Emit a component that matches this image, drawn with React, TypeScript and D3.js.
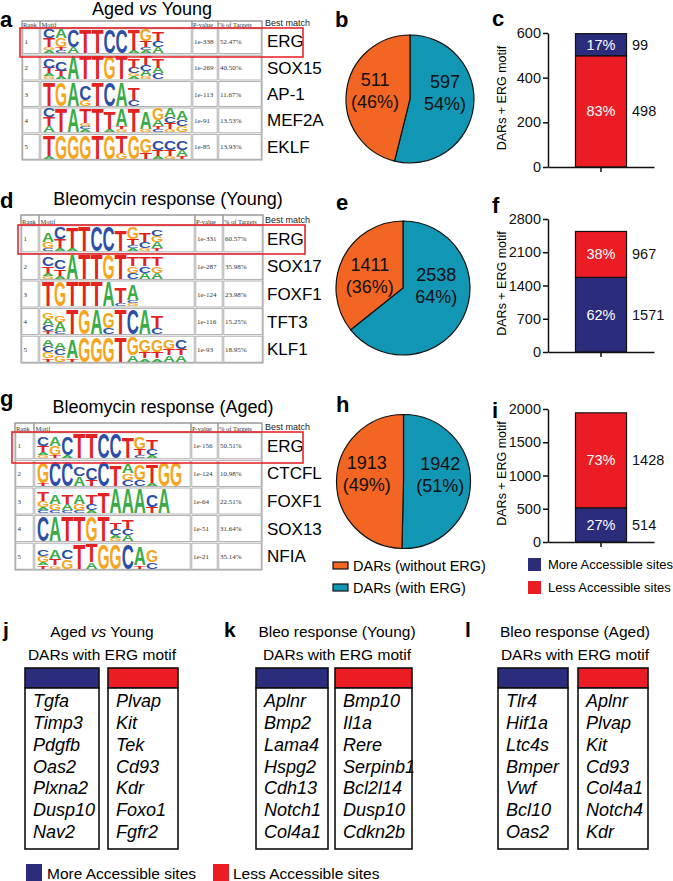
import React, { useEffect, useRef } from "react";
import * as d3 from "d3";

// ---- panels a / d / g : de novo motif tables ----
const tableTitles = ["Aged vs Young", "Bleomycin response (Young)", "Bleomycin response (Aged)"];

const agedYoungMatch = ["ERG", "SOX15", "AP-1", "MEF2A", "EKLF"];
const agedYoungPval = ["1e-338", "1e-269", "1e-113", "1e-91", "1e-85"];
const agedYoungTargets = ["52.47%", "40.50%", "11.67%", "13.53%", "13.93%"];
// logo columns, letters top -> bottom, digit = stack height (8 = full)
const agedYoungLogos = [
  ["C3T3G1A1", "A3G3T1C1", "C6A2", "T8", "T8", "C8", "C8", "T7A1", "G4T2C1A1", "T3C2A2"],
  ["C3T2A1G1", "C3T2A1", "A8", "T8", "T8", "G8", "T8", "T3C2G1A1", "T3C2A2G1", "T3A2C2"],
  ["T8", "G8", "A8", "C5G2", "T8", "C8", "A8", "T4C2"],
  ["C3T3A2", "T8", "A8", "T5G1C1A1", "T8", "T6A1", "A6T1G1", "T8", "A6G1", "G4A2T1C1", "A3C2T2G1", "A3C2G2"],
  ["T7A1", "G8", "G8", "G8", "T8", "G8", "T6G2", "G8", "G5T2", "C3T2A1", "C3T2G1", "C3A2T1"],
];

const bleoYoungMatch = ["ERG", "SOX17", "FOXF1", "TFT3", "KLF1"];
const bleoYoungPval = ["1e-331", "1e-287", "1e-124", "1e-116", "1e-93"];
const bleoYoungTargets = ["60.57%", "35.98%", "23.98%", "15.25%", "18.95%"];
const bleoYoungLogos = [
  ["A3G2C1", "C4T3A1", "T7A1", "T8", "C8", "C8", "T7", "G4T2C1A1", "T3C2G1", "C2G2A2T1"],
  ["C3T2A1G1", "C3T2A1", "A8", "T8", "T8", "G8", "T8", "T3G2C2", "T3C2A2", "T3G2A2"],
  ["T8", "G8", "T8", "T8", "T8", "A8", "T5C1", "A5C1G1"],
  ["G2A2C2T1", "G2A3C1", "T8", "G8", "A8", "G5C2", "T8", "C8", "A8", "T4C2"],
  ["A2C2G2T1", "A2C2G2", "A6T1", "G8", "G8", "G8", "T8", "G6A2", "G4T2A1", "G4T2A1", "G3T2A2", "C3T2A2"],
];

const bleoAgedMatch = ["ERG", "CTCFL", "FOXF1", "SOX13", "NFIA"];
const bleoAgedPval = ["1e-156", "1e-124", "1e-64", "1e-51", "1e-21"];
const bleoAgedTargets = ["50.51%", "10.98%", "22.51%", "31.64%", "35.14%"];
const bleoAgedLogos = [
  ["C3T2A1G1", "A3G3T1", "C6A1", "T8", "T8", "C8", "C8", "T7", "G4T2C1", "T3C2A1"],
  ["G7T1", "C8", "C8", "C3A3", "C4T2", "C8", "T7", "A3G2C2", "G5C2", "T6A1", "G8", "G8"],
  ["T3G2A1C1", "A3G2C1", "T3A2C1", "A3G2C1", "T3C2A1", "T7", "A8", "A8", "A8", "C4T2", "A8"],
  ["C8", "A8", "T8", "T8", "G8", "T8", "T2C2A1G1", "T3C2A2"],
  ["C2G2A1T1", "A3T2G1", "C3G3", "T8", "T6A2", "G8", "G8", "C8", "A6T1", "G4C2"],
];

// ---- panels b / e / h : pies ----
const pieCategories = ["DARs (without ERG)", "DARs (with ERG)"];
const pieWithout = [511, 1411, 1913];
const pieWith = [597, 2538, 1942];
const pieWithoutPct = ["(46%)", "(36%)", "(49%)"];
const pieWithPct = ["54%)", "64%)", "(51%)"];

// ---- panels c / f / i : stacked bars ----
const accessCategories = ["More Accessible sites", "Less Accessible sites"];
const barMore = [99, 1571, 514];
const barLess = [498, 967, 1428];
const barMorePct = ["17%", "62%", "27%"];
const barLessPct = ["83%", "38%", "73%"];
const barMoreOnTop = [true, false, false];
const barYMax = [600, 2800, 2000];
const barTicks = [[0, 200, 400, 600], [0, 700, 1400, 2100, 2800], [0, 500, 1000, 1500, 2000]];

// ---- panels j / k / l : gene lists ----
const geneTitles = ["Aged vs Young", "Bleo response (Young)", "Bleo response (Aged)"];
const jMore = ["Tgfa", "Timp3", "Pdgfb", "Oas2", "Plxna2", "Dusp10", "Nav2"];
const jLess = ["Plvap", "Kit", "Tek", "Cd93", "Kdr", "Foxo1", "Fgfr2"];
const kMore = ["Aplnr", "Bmp2", "Lama4", "Hspg2", "Cdh13", "Notch1", "Col4a1"];
const kLess = ["Bmp10", "Il1a", "Rere", "Serpinb1", "Bcl2l14", "Dusp10", "Cdkn2b"];
const lMore = ["Tlr4", "Hif1a", "Ltc4s", "Bmper", "Vwf", "Bcl10", "Oas2"];
const lLess = ["Aplnr", "Plvap", "Kit", "Cd93", "Col4a1", "Notch4", "Kdr"];

const SANS = "Liberation Sans, Arial, Helvetica, sans-serif";
const SERIF = "Liberation Serif, Times New Roman, serif";
const BLUE = "#2b2c7c";
const RED = "#ec1c24";
const ORANGE = "#f26522";
const TEAL = "#1196b4";
const LOGO_COLORS: Record<string, string> = { A: "#3bab48", C: "#2c4fa5", G: "#f5a51e", T: "#e3231f" };
const ADV: Record<string, number> = { A: 7.22, C: 7.22, G: 7.78, T: 6.11 };

const App = () => {
  const ref = useRef<SVGSVGElement>(null);

  useEffect(() => {
    const svg = d3.select(ref.current);
    svg.selectAll("*").remove();

    const panelLabel = (t: string, x: number, y: number) =>
      svg.append("text").attr("x", x).attr("y", y).attr("font-family", SANS)
        .attr("font-weight", "bold").attr("font-size", 22).text(t);

    // ---------- motif tables ----------
    const tables = [
      { label: "a", ly: 27, titleX: 152, titleY: 15, match: agedYoungMatch, pval: agedYoungPval, tg: agedYoungTargets, logos: agedYoungLogos,
        cols: [22, 40, 192, 218, 262], top: 21, head: 28, rowH: 26.4, box: [20, 28, 303, 57] },
      { label: "d", ly: 208, titleX: 168, titleY: 205, match: bleoYoungMatch, pval: bleoYoungPval, tg: bleoYoungTargets, logos: bleoYoungLogos,
        cols: [21, 39, 195, 223, 263], top: 215, head: 225, rowH: 27.6, box: [18, 225, 305, 254] },
      { label: "g", ly: 406, titleX: 163, titleY: 413, match: bleoAgedMatch, pval: bleoAgedPval, tg: bleoAgedTargets, logos: bleoAgedLogos,
        cols: [15, 34, 191, 218, 262], top: 423, head: 432, rowH: 27.6, box: [12, 432, 303, 463] },
    ];

    tables.forEach((t, ti) => {
      panelLabel(t.label, 0, t.ly);
      const title = svg.append("text").attr("x", t.titleX).attr("y", t.titleY).attr("text-anchor", "middle")
        .attr("font-family", SANS).attr("font-size", 18);
      if (ti === 0) {
        title.append("tspan").text("Aged ");
        title.append("tspan").attr("font-style", "italic").text("vs");
        title.append("tspan").text(" Young");
      } else title.text(tableTitles[ti]);

      const g = svg.append("g");
      const [c0, c1, c2, c3, c4] = t.cols;
      const nRows = t.match.length;
      const rowY = d3.range(nRows + 1).map((i) => t.head + i * t.rowH);
      const bottom = rowY[nRows];

      // cells
      const xs = [c0, c1, c2, c3, c4];
      for (let ci = 0; ci < 4; ci++) {
        g.append("rect").attr("x", xs[ci]).attr("y", t.top).attr("width", xs[ci + 1] - xs[ci]).attr("height", t.head - t.top)
          .attr("fill", "none").attr("stroke", "#9a9a9a").attr("stroke-width", 1);
        rowY.slice(0, nRows).forEach((ry) => {
          g.append("rect").attr("x", xs[ci] + 0.8).attr("y", ry + 0.8).attr("width", xs[ci + 1] - xs[ci] - 1.6)
            .attr("height", t.rowH - 1.6).attr("fill", "none").attr("stroke", "#a8a8a8").attr("stroke-width", 0.9);
        });
      }
      g.append("rect").attr("x", c0).attr("y", t.top).attr("width", c4 - c0).attr("height", bottom - t.top)
        .attr("fill", "none").attr("stroke", "#9a9a9a").attr("stroke-width", 1);

      const hdr = (s: string, x: number) =>
        g.append("text").attr("x", x).attr("y", t.head - 1.5).attr("font-family", SERIF).attr("font-size", 6.5)
          .attr("fill", "#333").text(s);
      hdr("Rank", c0 + 1);
      hdr("Motif", c1 + 1.5);
      hdr("P-value", c2 + 1);
      hdr("% of Targets", c3 + 1);
      svg.append("text").attr("x", 265).attr("y", t.head - 2).attr("font-family", SANS).attr("font-size", 9)
        .attr("fill", "#222").text("Best match");

      const colW = 12.1;
      const unit = (t.rowH - 3) / 8;
      t.match.forEach((m, i) => {
        const cy = rowY[i] + t.rowH / 2;
        g.append("text").attr("x", c0 + 2.5).attr("y", cy + 2.5).attr("font-family", SERIF).attr("font-size", 7).attr("fill", "#333").text(String(i + 1));
        g.append("text").attr("x", c2 + 2).attr("y", cy + 2.5).attr("font-family", SERIF).attr("font-size", 7).attr("fill", "#333").text(t.pval[i]);
        g.append("text").attr("x", c3 + 2).attr("y", cy + 2.5).attr("font-family", SERIF).attr("font-size", 7).attr("fill", "#333").text(t.tg[i]);
        svg.append("text").attr("x", 267).attr("y", cy + 6).attr("font-family", SANS).attr("font-size", 17).text(m);

        // sequence logo
        const x0 = c1 + 3;
        const yb = rowY[i + 1] - 1.5;
        t.logos[i].forEach((col, k) => {
          const letters = Array.from(col.matchAll(/([ACGT])(\d)/g)).map((mm) => [mm[1], +mm[2]] as [string, number]);
          let y = yb;
          letters.reverse().forEach(([L, h]) => {
            const hh = h * unit;
            g.append("text")
              .attr("transform", `translate(${x0 + k * colW},${y}) scale(${colW / ADV[L]},${hh / 7.16})`)
              .attr("font-family", SANS).attr("font-weight", "bold").attr("font-size", 10)
              .attr("fill", LOGO_COLORS[L]).text(L);
            y -= hh;
          });
        });
      });

      const [bx0, by0, bx1, by1] = t.box;
      svg.append("rect").attr("x", bx0).attr("y", by0).attr("width", bx1 - bx0).attr("height", by1 - by0)
        .attr("fill", "none").attr("stroke", "#e8262d").attr("stroke-width", 1.6);
    });

    // ---------- pies ----------
    const pies = [
      { label: "b", lx: 335, ly: 27, cx: 410, cy: 99, r: 64 },
      { label: "e", lx: 336, ly: 210, cx: 403, cy: 288, r: 67 },
      { label: "h", lx: 336, ly: 412, cx: 403.5, cy: 481.5, r: 67 },
    ];
    const pie = d3.pie<number>().sort(null).startAngle(0).endAngle(2 * Math.PI);
    pies.forEach((p, pi) => {
      panelLabel(p.label, p.lx, p.ly);
      const g = svg.append("g").attr("transform", `translate(${p.cx},${p.cy})`);
      const arcs = pie([pieWith[pi], pieWithout[pi]]);
      const arc = d3.arc<d3.PieArcDatum<number>>().innerRadius(0).outerRadius(p.r);
      const labelArc = d3.arc<d3.PieArcDatum<number>>().innerRadius(p.r * 0.55).outerRadius(p.r * 0.55);
      g.selectAll("path").data(arcs).join("path").attr("d", arc)
        .attr("fill", (d, i) => (i === 0 ? TEAL : ORANGE)).attr("stroke", "#111").attr("stroke-width", 1.2);
      arcs.forEach((a, i) => {
        const [lx, ly] = labelArc.centroid(a);
        const yb = -8 + ly * 0.3;
        const txt = g.append("text").attr("text-anchor", "middle").attr("font-family", SANS).attr("font-size", 18).attr("fill", "#111");
        txt.append("tspan").attr("x", lx).attr("y", yb - 4).text(String(i === 0 ? pieWith[pi] : pieWithout[pi]));
        txt.append("tspan").attr("x", lx).attr("y", yb + 18).text(i === 0 ? pieWithPct[pi] : pieWithoutPct[pi]);
      });
    });
    // pie legend
    [ORANGE, TEAL].forEach((c, i) => {
      svg.append("rect").attr("x", 333).attr("y", 562 + i * 22).attr("width", 15).attr("height", 7)
        .attr("fill", c).attr("stroke", "#111").attr("stroke-width", 1.2);
      svg.append("text").attr("x", 353).attr("y", 571 + i * 22).attr("font-family", SANS).attr("font-size", 14.5)
        .text(pieCategories[i]);
    });

    // ---------- stacked bars ----------
    const bars = [
      { label: "c", ly: 26, top: 33, bottom: 167 },
      { label: "f", ly: 213, top: 219, bottom: 352 },
      { label: "i", ly: 418, top: 409, bottom: 542 },
    ];
    const axisX = 548;
    bars.forEach((b, bi) => {
      panelLabel(b.label, 492, b.ly);
      const y = d3.scaleLinear().domain([0, barYMax[bi]]).range([b.bottom, b.top]);
      const x = d3.scaleBand().domain(["DARs"]).range([axisX, 654]).padding(0.35);
      const g = svg.append("g");

      const segs = barMoreOnTop[bi]
        ? [{ v: barLess[bi], c: RED, pct: barLessPct[bi] }, { v: barMore[bi], c: BLUE, pct: barMorePct[bi] }]
        : [{ v: barMore[bi], c: BLUE, pct: barMorePct[bi] }, { v: barLess[bi], c: RED, pct: barLessPct[bi] }];
      let acc = 0;
      segs.forEach((s) => {
        const y0 = y(acc), y1 = y(acc + s.v);
        g.append("rect").attr("x", x("DARs")!).attr("y", y1).attr("width", x.bandwidth()).attr("height", y0 - y1)
          .attr("fill", s.c).attr("stroke", "#111").attr("stroke-width", 1.2);
        const mid = (y0 + y1) / 2;
        g.append("text").attr("x", x("DARs")! + x.bandwidth() / 2).attr("y", mid + 5).attr("text-anchor", "middle")
          .attr("font-family", SANS).attr("font-size", 14.5).attr("fill", "#fff").text(s.pct);
        g.append("text").attr("x", 632).attr("y", mid + 5).attr("font-family", SANS).attr("font-size", 14.5)
          .attr("fill", "#111").text(String(s.v));
        acc += s.v;
      });

      const ya = g.append("g").attr("transform", `translate(${axisX},0)`)
        .call(d3.axisLeft(y).tickValues(barTicks[bi]).tickFormat(d3.format("d")).tickSize(5).tickSizeOuter(0).tickPadding(2));
      ya.selectAll("text").attr("font-family", SANS).attr("font-size", 14.5).attr("fill", "#111");
      ya.selectAll("line").attr("stroke", "#111").attr("stroke-width", 1.5);
      ya.select(".domain").attr("stroke", "#111").attr("stroke-width", 1.5);

      const xa = g.append("g").attr("transform", `translate(0,${b.bottom})`)
        .call(d3.axisBottom(x).tickSize(5).tickSizeOuter(0).tickFormat(() => ""));
      xa.selectAll("line").attr("stroke", "#111").attr("stroke-width", 1.5);
      xa.select(".domain").attr("stroke", "#111").attr("stroke-width", 1.5);

      g.append("text").attr("transform", `translate(506,${(b.top + b.bottom) / 2 - 2}) rotate(-90)`)
        .attr("text-anchor", "middle").attr("font-family", SANS).attr("font-size", 12.5).text("DARs + ERG motif");
    });
    // bar legend
    [BLUE, RED].forEach((c, i) => {
      svg.append("rect").attr("x", 528).attr("y", 558 + i * 23).attr("width", 13).attr("height", 13).attr("fill", c);
      svg.append("text").attr("x", 548).attr("y", 569 + i * 23).attr("font-family", SANS).attr("font-size", 13)
        .text(accessCategories[i]);
    });

    // ---------- gene lists ----------
    const lists = [
      { label: "j", lx: 3, titleX: 102, more: jMore, less: jLess, blue: [25, 99], red: [108, 178] },
      { label: "k", lx: 224, titleX: 337, more: kMore, less: kLess, blue: [256, 328], red: [335, 412] },
      { label: "l", lx: 465, titleX: 575, more: lMore, less: lLess, blue: [498, 568], red: [578, 648] },
    ];
    const yGene = d3.scalePoint().domain(d3.range(7).map(String)).range([707, 838]);
    lists.forEach((l, li) => {
      panelLabel(l.label, l.lx, 637).attr("font-size", 21);
      const title = svg.append("text").attr("x", l.titleX).attr("y", 637).attr("text-anchor", "middle")
        .attr("font-family", SANS).attr("font-size", 15.5);
      if (li === 0) {
        title.append("tspan").text("Aged ");
        title.append("tspan").attr("font-style", "italic").text("vs");
        title.append("tspan").text(" Young");
      } else title.text(geneTitles[li]);
      svg.append("text").attr("x", l.titleX).attr("y", 660).attr("text-anchor", "middle")
        .attr("font-family", SANS).attr("font-size", 15.5).text("DARs with ERG motif");

      [
        { xr: l.blue, c: BLUE, genes: l.more },
        { xr: l.red, c: RED, genes: l.less },
      ].forEach((col) => {
        const [x0, x1] = col.xr;
        svg.append("rect").attr("x", x0).attr("y", 668).attr("width", x1 - x0).attr("height", 20)
          .attr("fill", col.c).attr("stroke", "#111").attr("stroke-width", 1.6);
        svg.append("rect").attr("x", x0).attr("y", 688).attr("width", x1 - x0).attr("height", 161)
          .attr("fill", "#fff").attr("stroke", "#111").attr("stroke-width", 1.6);
        col.genes.forEach((gn, gi) => {
          svg.append("text").attr("x", x0 + 8).attr("y", yGene(String(gi))!).attr("font-family", SANS)
            .attr("font-style", "italic").attr("font-size", 18).text(gn);
        });
      });
    });
    // bottom legend
    [
      { c: BLUE, x: 26, tx: 47 },
      { c: RED, x: 213, tx: 233 },
    ].forEach((lg, i) => {
      svg.append("rect").attr("x", lg.x).attr("y", 864).attr("width", 16).attr("height", 17).attr("fill", lg.c);
      svg.append("text").attr("x", lg.tx).attr("y", 879).attr("font-family", SANS).attr("font-size", 15.5)
        .text(accessCategories[i]);
    });
  }, []);

  return (
    <svg
      ref={ref}
      width={673}
      height={881}
      style={{ position: "absolute", left: 0, top: 0, background: "#fff" }}
    />
  );
};

export default App;
